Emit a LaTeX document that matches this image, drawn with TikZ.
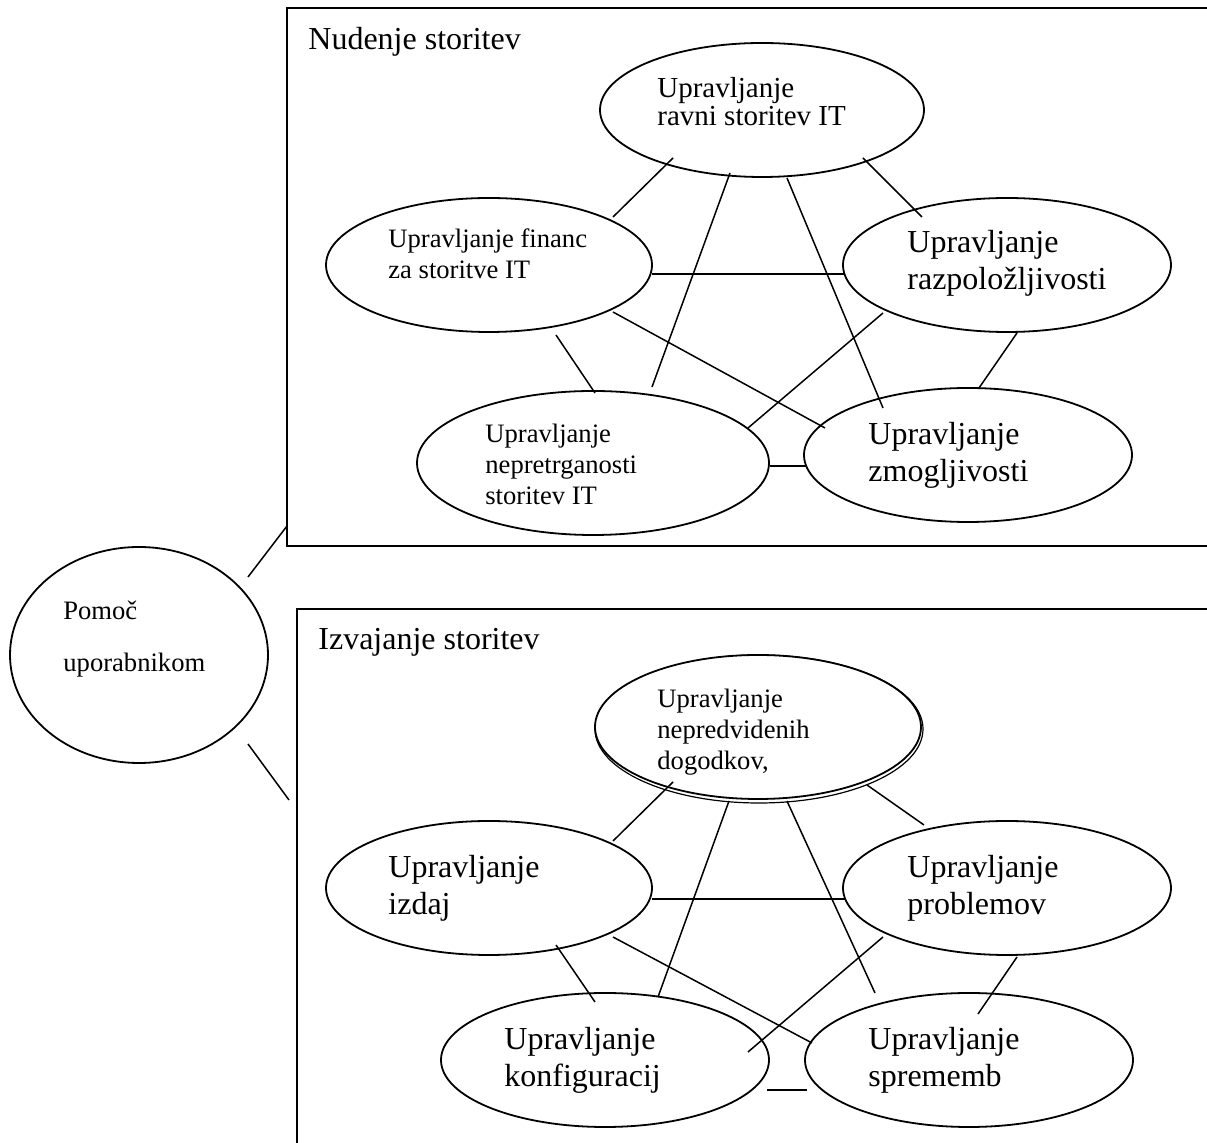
\documentclass[tikz,border=0pt]{standalone}
\usepackage{fontspec}
\setmainfont{Liberation Serif}
\usetikzlibrary{shapes.geometric}
% left-aligned block of lines whose baseline is the first line
\newcommand\txtlines[1]{\begin{tabular}[t]{@{}l@{}}#1\end{tabular}}
\begin{document}
\begin{tikzpicture}[x=0.5pt,y=-0.5pt,
  oval/.style={draw, ellipse, inner sep=0pt, line width=0.9pt},
  link/.style={line width=0.75pt},
  heavy/.style={line width=1.4pt},
  frame/.style={line width=1.2pt},
  big/.style={font=\fontsize{16pt}{18.5pt}\selectfont},
  mid/.style={font=\fontsize{14.5pt}{14pt}\selectfont},
  small/.style={font=\fontsize{13.3pt}{15.5pt}\selectfont},
  txt/.style={anchor=base west, inner sep=0pt}]

\fill[white] (0,0) rectangle (1207,1143);
\useasboundingbox (0,0) rectangle (1207,1143);

% ---- frames of the two groups (open to the right) ----
\draw[frame] (1210,8) -- (287,8) -- (287,546) -- (1210,546);
\draw[frame] (1210,609) -- (297,609) -- (297,1146);
\node[txt, big] (lab1) at (308,50) {Nudenje storitev};
\node[txt, big] (lab2) at (318,650) {Izvajanje storitev};

% ---- service delivery ----
\node[oval, minimum width=162pt, minimum height=67pt] (e1) at (762,110) {};
\node[oval, minimum width=163pt, minimum height=67pt] (e2) at (489,265) {};
\node[oval, minimum width=164pt, minimum height=67pt] (e3) at (1007,265) {};
\node[oval, minimum width=176pt, minimum height=72pt] (e4) at (593,463) {};
\node[oval, minimum width=164pt, minimum height=67pt] (e5) at (968,455) {};

\node[txt, mid] (t1) at (657,98) {\txtlines{Upravljanje\\ravni storitev IT}};
\node[txt, small] (t2) at (388,248) {\txtlines{Upravljanje financ\\za storitve IT}};
\node[txt, big] (t3) at (907,253) {\txtlines{Upravljanje\\razpoložljivosti}};
\node[txt, small] (t4) at (485,443) {\txtlines{Upravljanje\\nepretrganosti\\storitev IT}};
\node[txt, big] (t5) at (868,445) {\txtlines{Upravljanje\\zmogljivosti}};

\draw[link] ([shift={(-89,48)}]e1.center) -- ([shift={(124,-48)}]e2.center);
\draw[link] ([shift={(-32,63)}]e1.center) -- ([shift={(59,-76)}]e4.center);
\draw[link] ([shift={(25,68)}]e1.center) -- ([shift={(-85,-47)}]e5.center);
\draw[link] ([shift={(101,48)}]e1.center) -- ([shift={(-85,-48)}]e3.center);
\draw[heavy] ([shift={(163,9)}]e2.center) -- ([shift={(-163,9)}]e3.center);
\draw[link] ([shift={(67,70)}]e2.center) -- ([shift={(2,-70)}]e4.center);
\draw[link] ([shift={(124,47)}]e2.center) -- ([shift={(-143,-27)}]e5.center);
\draw[link] ([shift={(-124,48)}]e3.center) -- ([shift={(155,-35)}]e4.center);
\draw[link] ([shift={(10,68)}]e3.center) -- ([shift={(11,-67)}]e5.center);
\draw[heavy] ([shift={(177,3)}]e4.center) -- ([shift={(-162,11)}]e5.center);

% ---- service support ----
\node[oval, line width=0.6pt, minimum width=164pt, minimum height=74pt] (e6b) at (759,729) {};
\node[oval, fill=white, minimum width=163pt, minimum height=72pt] (e6) at (758,727) {};
\node[oval, minimum width=163pt, minimum height=67pt] (e7) at (489,888) {};
\node[oval, minimum width=164pt, minimum height=67pt] (e8) at (1007,888) {};
\node[oval, minimum width=164pt, minimum height=67pt] (e9) at (605,1060) {};
\node[oval, minimum width=164pt, minimum height=67pt] (e10) at (969,1060) {};

\node[txt, small] (t6) at (657,708) {\txtlines{Upravljanje\\nepredvidenih\\dogodkov,}};
\node[txt, big] (t7) at (388,878) {\txtlines{Upravljanje\\izdaj}};
\node[txt, big] (t8) at (907,878) {\txtlines{Upravljanje\\problemov}};
\node[txt, big] (t9) at (504,1050) {\txtlines{Upravljanje\\konfiguracij}};
\node[txt, big] (t10) at (868,1050) {\txtlines{Upravljanje\\sprememb}};

\draw[link] ([shift={(-85,55)}]e6.center) -- ([shift={(124,-47)}]e7.center);
\draw[link] ([shift={(-29,74)}]e6.center) -- ([shift={(53,-63)}]e9.center);
\draw[link] ([shift={(29,74)}]e6.center) -- ([shift={(-94,-67)}]e10.center);
\draw[link] ([shift={(109,58)}]e6.center) -- ([shift={(-83,-63)}]e8.center);
\draw[heavy] ([shift={(163,11)}]e7.center) -- ([shift={(-162,11)}]e8.center);
\draw[link] ([shift={(67,57)}]e7.center) -- ([shift={(-10,-58)}]e9.center);
\draw[link] ([shift={(124,49)}]e7.center) -- ([shift={(-157,-17)}]e10.center);
\draw[link] ([shift={(-124,49)}]e8.center) -- ([shift={(143,-8)}]e9.center);
\draw[link] ([shift={(10,69)}]e8.center) -- ([shift={(9,-46)}]e10.center);
\draw[heavy] ([shift={(162,30)}]e9.center) -- ([shift={(-162,30)}]e10.center);

% ---- service desk ----
\node[oval, minimum width=129pt, minimum height=108pt] (pm) at (139,655) {};
\node[txt, small] (tp) at (63,620) {Pomoč};
\node[txt, small] (tu) at (63,672) {uporabnikom};
\coordinate (upj) at (287,526);
\coordinate (dnj) at (289,800);
\draw[link] ([shift={(109,-78)}]pm.center) -- (upj);
\draw[link] ([shift={(109,89)}]pm.center) -- (dnj);
\end{tikzpicture}
\end{document}
